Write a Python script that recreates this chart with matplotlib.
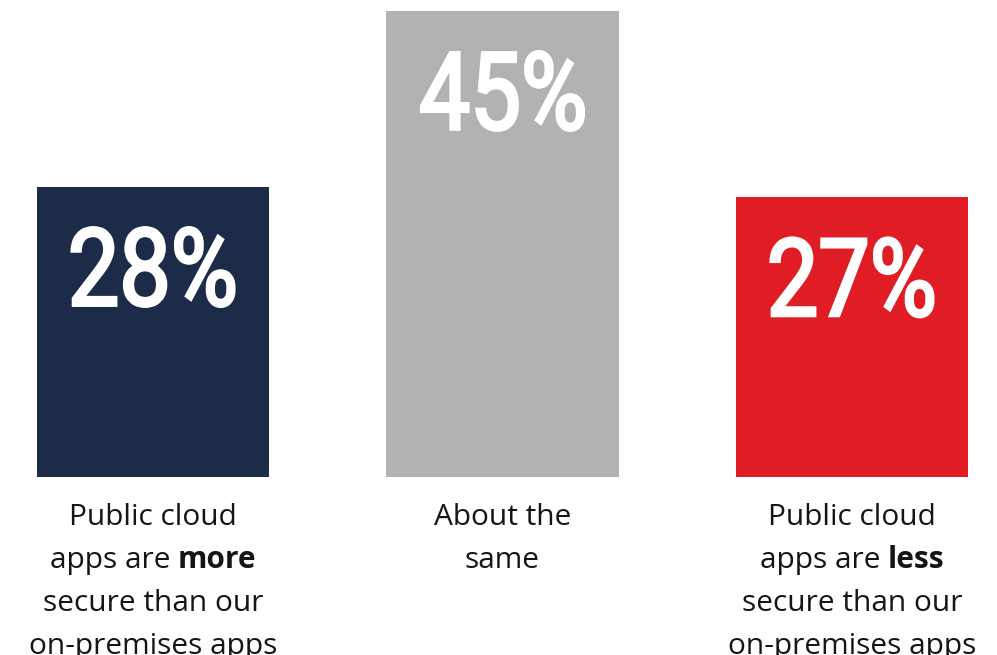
import matplotlib
matplotlib.use("Agg")
from matplotlib import pyplot as plt
from matplotlib import transforms
from matplotlib.textpath import TextPath
from matplotlib.patches import PathPatch
from matplotlib.font_manager import FontProperties

# data
categories = ["more secure", "about the same", "less secure"]
values = [28, 45, 27]
value_labels = ["28%", "45%", "27%"]
bar_colors = ["#1c2b48", "#b1b2b2", "#e01d24"]
captions = [
    ["Public cloud", "apps are **more**", "secure than our", "on-premises apps"],
    ["About the", "same"],
    ["Public cloud", "apps are **less**", "secure than our", "on-premises apps"],
]

fig = plt.figure(figsize=(9.97, 6.55), dpi=100)
ax = fig.add_axes([0, 178 / 655, 1, 477 / 655])
x = list(range(len(values)))
ax.bar(x, values, width=0.664, color=bar_colors)
ax.set_xlim(-0.4378, 2.415)
ax.set_ylim(0, 46.06)
ax.axis("off")

# big condensed percentages (squeezed glyph outlines, thickened a bit with an edge)
num_font = FontProperties(family="Roboto", weight="normal")
for xi, v, lab in zip(x, values, value_labels):
    tp = TextPath((0, 0), lab, size=100, prop=num_font)
    bb = tp.get_extents()
    sx = 162 / bb.width
    sy = 79 / bb.height
    tr = (transforms.Affine2D()
          .translate(-(bb.x0 + bb.width / 2), -bb.y1)
          .scale(sx, sy)
          .translate(0, -40.5)
          + transforms.ScaledTranslation(xi, v, ax.transData))
    fig.add_artist(PathPatch(tp, transform=tr, facecolor="white", edgecolor="white",
                             linewidth=2.2, joinstyle="miter"))

# captions under the bars, with one bold word
cap_style = dict(family="Open Sans", fontsize=21.5, color="#151515")
renderer = fig.canvas.get_renderer()


def text_w(s, weight):
    t = fig.text(0, 0, s, fontweight=weight, **cap_style)
    w = t.get_window_extent(renderer).width
    t.remove()
    return w


space_w = text_w("a a", "normal") - text_w("aa", "normal")

for xi, lines in zip(x, captions):
    for i, line in enumerate(lines):
        parts = line.split("**")
        segs = []
        for j, p in enumerate(parts):
            p = p.strip()
            if p:
                segs.append((p, "bold" if j % 2 else "normal"))
        widths = [text_w(s, w) for s, w in segs]
        total = sum(widths) + space_w * (len(segs) - 1)
        start = -total / 2
        for (s, w), wd in zip(segs, widths):
            tr = transforms.offset_copy(ax.transData, fig, x=start, y=-(48 + i * 43), units="dots")
            ax.text(xi, 0, s, transform=tr, ha="left", va="baseline",
                    fontweight=w, clip_on=False, **cap_style)
            start += wd + space_w

fig.savefig("out.png", dpi=100)
